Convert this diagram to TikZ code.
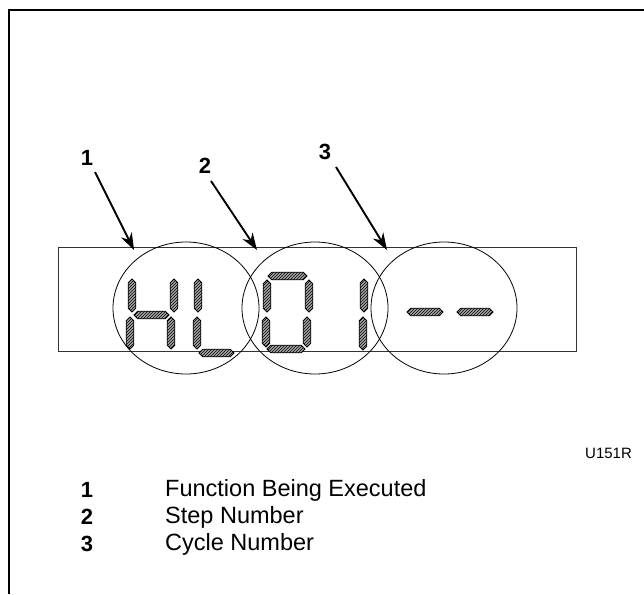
\documentclass[tikz,border=0pt]{standalone}
\usepackage{fontspec}
\setmainfont{Liberation Sans}
\usetikzlibrary{arrows.meta,patterns}

% one lit segment of the display, vertical and horizontal
\newcommand{\vseg}[3]{\path[segment] (#1,#2) -- ({#1+3.8},{#2+3.8}) -- ({#1+3.8},{#3-3.8}) -- (#1,#3) -- ({#1-3.8},{#3-3.8}) -- ({#1-3.8},{#2+3.8}) -- cycle;}
\newcommand{\hseg}[3]{\path[segment] (#2,#1) -- ({#2+3.8},{#1-3.8}) -- ({#3-3.8},{#1-3.8}) -- (#3,#1) -- ({#3-3.8},{#1+3.8}) -- ({#2+3.8},{#1+3.8}) -- cycle;}

\tikzset{
  segment/.style={draw=black, line width=0.8pt, preaction={fill=gray!70},
                  pattern=north east lines, pattern color=black},
  ring/.style={draw=black, line width=0.8pt},
  callout/.style={font=\bfseries\fontsize{22}{26}\selectfont, inner sep=0pt},
  legendnum/.style={font=\bfseries\fontsize{22}{26}\selectfont, inner sep=0pt},
  legendtext/.style={font=\fontsize{23.5}{28}\selectfont, inner sep=0pt, anchor=west}
}

\begin{document}
\begin{tikzpicture}[x=1pt, y=-1pt]
        \useasboundingbox (0,0) rectangle (644,594);

        % frame
        \draw[line width=2pt] (644,10) -- (8.5,10) -- (8.5,594);

        % display window
        \draw[line width=0.8pt, black!80] (58,247) rectangle (576,351);

        % digits H L 0 1 - -
        \vseg{132}{279}{312} \vseg{130}{317}{349}
        \hseg{315}{134}{169}
        \vseg{174}{279}{312} \vseg{171}{317}{349}

        \vseg{198}{279}{312} \vseg{197}{317}{349}
        \hseg{353}{199}{234}

        \hseg{276}{268}{307}
        \vseg{267}{280}{312} \vseg{309}{280}{312}
        \vseg{266}{317}{347} \vseg{307}{317}{347}
        \hseg{349}{267}{305}

        \vseg{364}{279}{312} \vseg{363}{317}{350}

        \hseg{312}{407}{443}
        \hseg{312}{457}{493}

        % circled groups
        \coordinate (c1) at (186,308);
        \coordinate (c2) at (315,308);
        \coordinate (c3) at (444,308);
        \draw[ring] (c1) ellipse[x radius=73pt, y radius=66pt];
        \draw[ring] (c2) ellipse[x radius=73pt, y radius=66pt];
        \draw[ring] (c3) ellipse[x radius=73pt, y radius=66pt];

        % callouts
        \node[callout] (n1) at (87,158) {1};
        \node[callout] (n2) at (205,166) {2};
        \node[callout] (n3) at (325,152) {3};

        \coordinate (s1) at (95,172);
        \coordinate (s2) at (211,181);
        \coordinate (s3) at (336,167);
        \coordinate (t1) at (134,250);
        \coordinate (t2) at (257,250);
        \coordinate (t3) at (387,250);

        \begin{scope}[>={Stealth[length=17pt, width=12pt]}, line width=1.9pt]
            \draw[->] (s1) -- (t1);
            \draw[->] (s2) -- (t2);
            \draw[->] (s3) -- (t3);
        \end{scope}

        \node[font=\fontsize{15}{18}\selectfont, inner sep=0pt, anchor=west] (fig) at (585,453) {U151R};

        % legend
        \node[legendnum] (k1) at (87,490) {1};
        \node[legendnum] (k2) at (87,517) {2};
        \node[legendnum] (k3) at (87,544) {3};
        \node[legendtext] (d1) at (165,490) {Function Being Executed};
        \node[legendtext] (d2) at (165,517) {Step Number};
        \node[legendtext] (d3) at (165,544) {Cycle Number};
    \end{tikzpicture}
\end{document}
